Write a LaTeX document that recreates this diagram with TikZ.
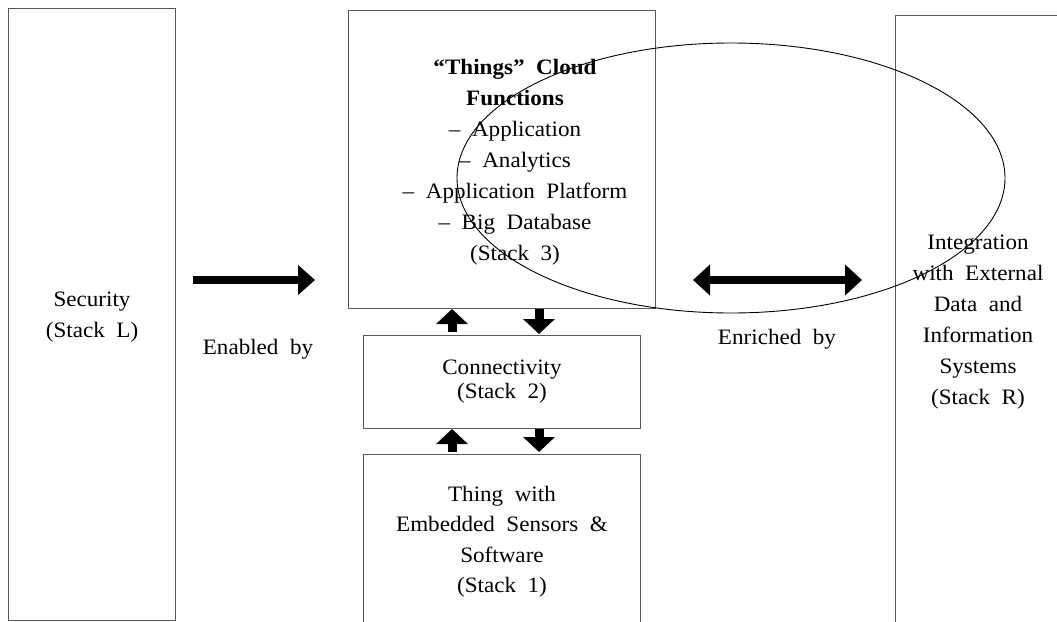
\documentclass[tikz,border=0pt]{standalone}
\usepackage{fontspec}
\setmainfont{Liberation Serif}[FakeStretch=1.05, WordSpace=2]
\usetikzlibrary{arrows.meta,shapes.geometric}

\begin{document}
\begin{tikzpicture}[x=1pt, y=-1pt,
  stackbox/.style={draw=black!65, line width=1pt, rectangle, inner sep=0pt, anchor=north west},
  lbl/.style={align=center, inner sep=0pt, font=\fontsize{22}{31}\selectfont},
  fatarrow/.style={line width=8pt, -{Triangle[length=17pt, width=29pt]}},
  fatboth/.style={line width=8pt, {Triangle[length=17pt, width=30pt]}-{Triangle[length=17pt, width=30pt]}},
  linkarrow/.style={line width=9pt, -{Triangle[length=15pt, width=31pt]}}]

\clip (0,0) rectangle (1057,621);
\fill[white] (0,0) rectangle (1057,621);

% stack boxes
\node[stackbox, minimum width=167pt, minimum height=612pt] (secL) at (8,8) {};
\node[stackbox, minimum width=307pt, minimum height=298pt] (s3) at (348,10) {};
\node[stackbox, minimum width=277pt, minimum height=93pt] (s2) at (363,335) {};
\node[stackbox, minimum width=277pt, minimum height=200pt] (s1) at (363,454) {};
\node[stackbox, minimum width=200pt, minimum height=640pt] (secR) at (895,15) {};

% box texts
\node[lbl] (tL) at (92,317.5) {Security\\(Stack L)};
\node[lbl] (t3) at (515,162.5) {\bfseries “Things” Cloud\\\bfseries Functions\\
  -- Application\\-- Analytics\\-- Application Platform\\-- Big Database\\(Stack 3)};
\node[lbl, font=\fontsize{22}{24}\selectfont] (t2) at (502,381.5) {Connectivity\\(Stack 2)};
\node[lbl, font=\fontsize{22}{30.5}\selectfont] (t1) at (502,541.5) {Thing with\\Embedded Sensors \&\\Software\\(Stack 1)};
\node[lbl] (tR) at (978,322) {Integration\\with External\\Data and\\Information\\Systems\\(Stack R)};

% relation labels
\node[lbl] (enab) at (258,349.5) {Enabled by};
\node[lbl] (enr) at (777,339.5) {Enriched by};

% ellipse around the cloud functions and the external systems
\node[draw=black, line width=0.9pt, ellipse, inner sep=0pt,
      minimum width=548pt, minimum height=270pt] (halo) at (731,178) {};

% big arrows
\coordinate (e1) at (193,280);
\coordinate (e2) at (315,280);
\draw[fatarrow] (e1) -- (e2);
\coordinate (r1) at (693,280);
\coordinate (r2) at (862,280);
\draw[fatboth] (r1) -- (r2);

% links between the stacked layers
\coordinate (upx) at (452,0);
\coordinate (dnx) at (539,0);
\draw[linkarrow, shorten <=3pt] (s2.north -| upx) -- (s3.south -| upx);
\draw[linkarrow, shorten >=1pt] (s3.south -| dnx) -- (s2.north -| dnx);
\draw[linkarrow, shorten <=2pt] (s1.north -| upx) -- (s2.south -| upx);
\draw[linkarrow, shorten >=2pt] (s2.south -| dnx) -- (s1.north -| dnx);

\end{tikzpicture}
\end{document}
